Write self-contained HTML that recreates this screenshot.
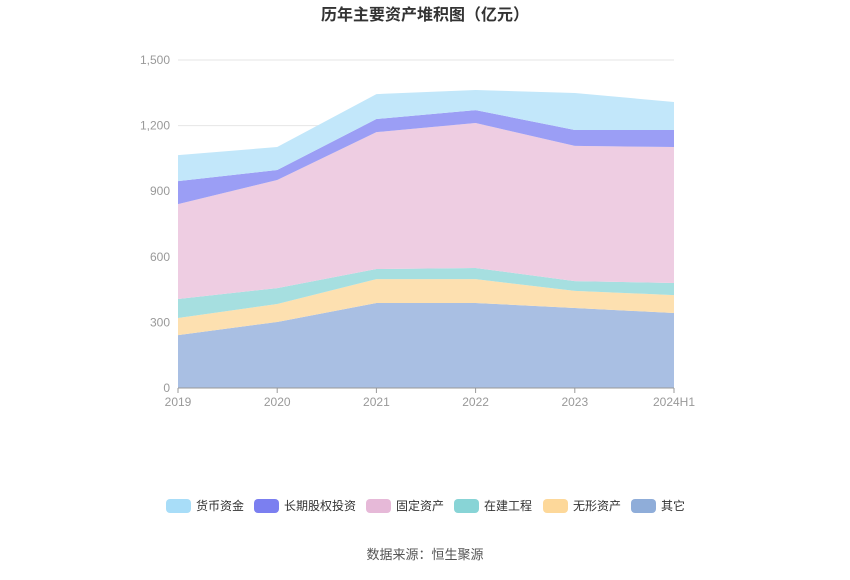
<!DOCTYPE html>
<html><head><meta charset="utf-8"><style>
body{margin:0;background:#fff;font-family:"Liberation Sans","Noto Sans CJK SC",sans-serif;}
</style></head><body>
<svg id="chart" width="850" height="575" xmlns="http://www.w3.org/2000/svg">
<text x="425" y="20" text-anchor="middle" font-size="16" font-weight="bold" fill="#333" font-family="Liberation Sans, Noto Sans CJK SC, sans-serif">历年主要资产堆积图（亿元）</text>
<g id="grid"></g><g id="areas"></g><g id="axes"></g><g id="legend"></g>
<text x="425" y="559" text-anchor="middle" font-size="13" fill="#555" font-family="Liberation Sans, Noto Sans CJK SC, sans-serif">数据来源：恒生聚源</text>
</svg>
<script>
const categories=["2019","2020","2021","2022","2023","2024H1"];
const seriesNames=["其它","无形资产","在建工程","固定资产","长期股权投资","货币资金"];
const other=[242,302,389,389,366,343];
const intangible=[78,82,109,109,78,82];
const construction=[87,73,46,51,45,55];
const fixedAssets=[434,494,626,663,618,622];
const equityInv=[105,46,60,59,73,78];
const cash=[119,105,114,92,169,128];
const yTicks=[0,300,600,900,1200,1500];
const yTickLabels=["0","300","600","900","1,200","1,500"];
const series=[other,intangible,construction,fixedAssets,equityInv,cash];
const fills=["#a9bfe3","#fde0b0","#a6dfe0","#eecde2","#9b9ef5","#c2e7fa"];
const swatch=["#8fadd9","#fdd89a","#88d4d6","#e6b9d8","#7b7ff0","#a8ddf8"];
const ns="http://www.w3.org/2000/svg";
const X0=178,X1=674,Y0=388,Y1=60;
const x=i=>X0+i*(X1-X0)/(categories.length-1);
const y=v=>Y0-(v/1500)*(Y0-Y1);
function mk(t,a,p){const e=document.createElementNS(ns,t);for(const k in a)e.setAttribute(k,a[k]);p.appendChild(e);return e;}
const grid=document.getElementById('grid'),axes=document.getElementById('axes'),areas=document.getElementById('areas'),legend=document.getElementById('legend');
yTicks.forEach((t,i)=>{
 if(t>0){const l=mk('line',{x1:X0,x2:X1,y1:y(t),y2:y(t),stroke:'#e6e6e6'},grid);
 
 }
 const tx=mk('text',{x:X0-8,y:y(t)+4,'text-anchor':'end','font-size':12,fill:'#999'},axes);tx.textContent=yTickLabels[i];
 
 
});
let base=categories.map(()=>0);
series.forEach((s,k)=>{
 const top=base.map((b,i)=>b+s[i]);
 let d='M'+top.map((v,i)=>x(i)+','+y(v)).join('L');
 for(let i=categories.length-1;i>=0;i--)d+='L'+x(i)+','+y(base[i]);
 const p=mk('path',{d:d+'Z',fill:fills[k]},areas);
 
 
 base=top;
});
const ax=mk('line',{x1:X0,x2:X1,y1:Y0,y2:Y0,stroke:'#999'},axes);


categories.forEach((c,i)=>{
 mk('line',{x1:x(i),x2:x(i),y1:Y0,y2:Y0+5,stroke:'#999'},axes);
 const t=mk('text',{x:x(i),y:Y0+18,'text-anchor':'middle','font-size':12,fill:'#999'},axes);t.textContent=c;
 
 
});
const legOrder=[5,4,3,2,1,0];const legX=[166,254,366,454,543,631];
legOrder.forEach((k,j)=>{
 const g=mk('g',{},legend);
 
 
 mk('rect',{x:legX[j],y:499,width:25,height:14,rx:4,fill:swatch[k]},g);
 const t=mk('text',{x:legX[j]+30,y:510,'font-size':12,fill:'#333'},g);t.textContent=seriesNames[k];
});
</script>
</body></html>
